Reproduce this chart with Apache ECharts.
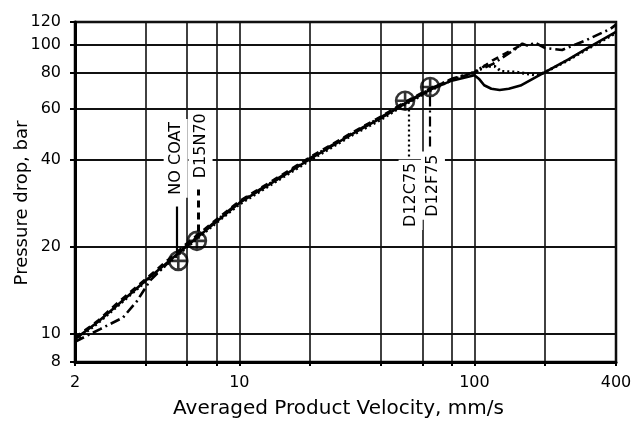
<!DOCTYPE html>
<html><head><meta charset="utf-8">
<script src="https://cdn.jsdelivr.net/npm/echarts@6/dist/echarts.min.js"></script>
<style>html,body{margin:0;padding:0;background:#fff}#c{width:636px;height:422px}</style>
</head><body><div id="c"></div>
<script>
// Axis ticks / grid lines
const xGridValues = [2, 4, 6, 8, 10, 20, 40, 60, 80, 100, 200, 400];
const xLabelValues = [2, 10, 100, 400];
const yGridValues = [8, 10, 20, 40, 60, 80, 100, 120];

// Series data (velocity mm/s, pressure drop bar)
const noCoatVelocity = [2, 2.5, 3, 4, 5, 6, 8, 10, 15, 20, 30, 40, 50, 65, 80, 100, 105, 110, 118, 128, 140, 157, 190, 250, 300, 400];
const noCoatPressure = [9.6, 11.0, 12.5, 15.3, 17.8, 20.2, 24.5, 28.4, 34.8, 40.3, 49.0, 55.8, 62.3, 70.0, 75.2, 78.5, 76.0, 72.5, 70.5, 69.8, 70.5, 72.3, 78.8, 89.0, 97.0, 111.0];

const d15n70Velocity = [2, 2.5, 3, 4, 5, 6, 8, 10, 15, 20, 30, 40, 50, 65, 80, 100, 119, 135, 155];
const d15n70Pressure = [9.7, 11.1, 12.7, 15.5, 18.1, 20.6, 24.9, 28.8, 35.3, 40.9, 49.6, 56.5, 63.0, 70.8, 76.0, 80.0, 88.2, 93.3, 99.0];

const d12c75Velocity = [2, 2.5, 3, 4, 5, 6, 8, 10, 15, 20, 30, 40, 50, 65, 80, 100, 110, 122, 130, 150, 185, 200, 250, 300, 400];
const d12c75Pressure = [9.5, 10.9, 12.4, 15.2, 17.6, 20.0, 24.3, 28.1, 34.5, 39.9, 48.6, 55.2, 61.9, 69.6, 75.6, 80.5, 84.5, 84.3, 81.0, 80.5, 78.5, 80.5, 88.5, 96.5, 110.0];

const d12f75Velocity = [2, 2.56, 3.2, 3.67, 4.17, 5, 6, 8, 10, 15, 20, 30, 40, 50, 65, 80, 100, 120, 150, 160, 170, 180, 200, 236, 300, 380, 400];
const d12f75Pressure = [9.4, 10.4, 11.4, 13.0, 15.3, 17.7, 20.3, 24.7, 28.6, 35.0, 40.6, 49.3, 56.2, 62.6, 70.4, 76.3, 80.5, 86.0, 97.0, 101.0, 99.0, 102.0, 97.5, 96.0, 104.0, 113.8, 117.5];

// Transition markers and annotations
const markerNames = ['NO COAT', 'D15N70', 'D12C75', 'D12F75'];
const markerVelocity = [5.5, 6.6, 50.7, 64.8];
const markerPressure = [17.9, 21.0, 64.1, 71.5];
const labelVelocity = [5.36, 6.84, 53.5, 66.6];
const labelPressure = [40.5, 44.8, 30.3, 32.6];
const keyVelocity = [5.41, 6.67, 52.8, 64.8];
const keyFrom = [19.3, 22.6, 59.8, 66.3];
const keyTo = [27.6, 31.6, 40.8, 43.1];

const zip = (a, b) => a.map((v, i) => [v, b[i]]);
const FONT = 'DejaVu Sans';
const styles = [
  { type: 'solid', width: 2.6 },
  { type: [7, 5], width: 2.6 },
  { type: [2, 3], width: 3 },
  { type: [10, 4, 2, 4], width: 2.6 }
];

function keyLine(i) {
  return {
    silent: true, symbol: 'none', animation: false,
    label: { show: false },
    lineStyle: Object.assign({ color: '#000' }, styles[i], { width: i === 1 ? 3 : 2.2 }),
    data: [[{ coord: [keyVelocity[i], keyFrom[i]] }, { coord: [keyVelocity[i], keyTo[i]] }]]
  };
}

function lineSeries(name, vx, py, i) {
  return {
    name, type: 'line', data: zip(vx, py), symbol: 'none', showSymbol: false,
    lineStyle: Object.assign({ color: '#000' }, styles[i]),
    z: 3, animation: false, markLine: keyLine(i)
  };
}

const chart = echarts.init(document.getElementById('c'), null, { renderer: 'canvas' });
chart.setOption({
  backgroundColor: '#fff',
  animation: false,
  grid: { left: 75, right: 20, top: 22, bottom: 60, containLabel: false, outerBoundsMode: 'none', show: true, borderColor: '#000', borderWidth: 2.5, backgroundColor: 'transparent' },
  xAxis: {
    type: 'log', logBase: 10, min: 2, max: 400,
    name: 'Averaged Product Velocity, mm/s', nameLocation: 'middle', nameGap: 37, nameMoveOverlap: false,
    nameTextStyle: { fontFamily: FONT, fontSize: 20, color: '#000', padding: [0, 14, 0, 0] },
    axisLine: { show: true, lineStyle: { color: '#000', width: 3 } },
    axisTick: { show: true, customValues: xGridValues, length: 4, lineStyle: { color: '#000', width: 2 } },
    axisLabel: { customValues: xLabelValues, fontFamily: FONT, fontSize: 16, color: '#000', margin: 13, formatter: v => String(Math.round(v)) },
    splitLine: { show: true, lineStyle: { color: '#111', width: 1.6 } },
    minorSplitLine: { show: false }
  },
  yAxis: {
    type: 'log', logBase: 10, min: 8, max: 120,
    name: 'Pressure drop, bar', nameLocation: 'middle', nameGap: 44, nameRotate: 90, nameMoveOverlap: false,
    nameTextStyle: { fontFamily: FONT, fontSize: 18, color: '#000', padding: [0, 22, 0, 0] },
    axisLine: { show: true, lineStyle: { color: '#000', width: 3 } },
    axisTick: { show: true, customValues: yGridValues, length: 5, lineStyle: { color: '#000', width: 2 } },
    axisLabel: { customValues: yGridValues, fontFamily: FONT, fontSize: 16, color: '#000', margin: 14, formatter: v => String(Math.round(v)) },
    splitLine: { show: true, lineStyle: { color: '#111', width: 1.8 } }
  },
  series: [
    lineSeries('NO COAT', noCoatVelocity, noCoatPressure, 0),
    lineSeries('D15N70', d15n70Velocity, d15n70Pressure, 1),
    lineSeries('D12C75', d12c75Velocity, d12c75Pressure, 2),
    lineSeries('D12F75', d12f75Velocity, d12f75Pressure, 3),
    {
      name: 'transitions', type: 'scatter', z: 5, animation: false,
      symbol: 'path://M10,0A10,10,0,1,1,-10,0A10,10,0,1,1,10,0ZM-10,0L10,0M0,-10L0,10',
      symbolSize: 18,
      itemStyle: { color: 'rgba(0,0,0,0)', borderColor: '#000', borderWidth: 2.6 },
      data: zip(markerVelocity, markerPressure)
    },
    {
      name: 'labels', type: 'scatter', z: 4, animation: false, symbolSize: 1,
      itemStyle: { color: '#ffffff', opacity: 1 },
      label: { show: true, position: 'inside', rotate: 90, fontFamily: FONT, fontSize: 16, color: '#000000', opacity: 1, textBorderWidth: 0, textShadowBlur: 0, backgroundColor: '#ffffff', borderWidth: 0, padding: [4, 3] },
      data: markerNames.map((n, i) => ({ value: [labelVelocity[i], labelPressure[i]], label: { formatter: n } }))
    }
  ]
});
</script></body></html>
